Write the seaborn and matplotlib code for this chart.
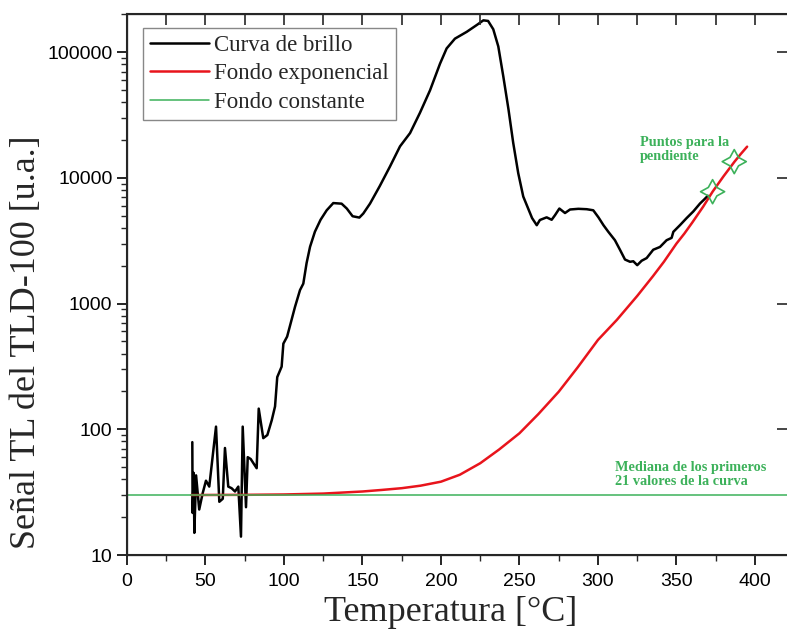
import numpy as np
import pandas as pd
import matplotlib
matplotlib.use("Agg")
import matplotlib.pyplot as plt
import seaborn as sns

sns.set_style("ticks")
plt.rcParams['font.family'] = ['Liberation Sans', 'DejaVu Sans']

# Curva de brillo
temp_brillo = [41.6, 41.8, 42.5, 42.9, 44.0, 46.0, 48.2, 50.3, 52.4, 56.7, 58.8, 61.0,
               62.4, 64.5, 66.6, 68.8, 70.9, 72.6, 73.7, 75.8, 76.9, 78.8, 82.6, 83.9,
               86.8, 89.4, 92.2, 94.3, 95.7, 98.5, 99.6, 102.0, 107.0, 110.2, 112.3,
               114.4, 116.6, 119.7, 123.3, 127.2, 131.4, 136.7, 140.0, 143.7, 148.0,
               150.5, 154.8, 161.0, 167.5, 173.9, 180.3, 186.6, 193.0, 199.4, 203.6,
               208.9, 216.4, 222.7, 227.0, 230.0, 233.3, 236.5, 239.7, 243.0, 246.0,
               249.2, 252.4, 256.7, 258.0, 261.0, 263.0, 267.3, 270.5, 272.6, 275.4,
               279.0, 282.2, 287.5, 292.8, 297.0, 300.3, 303.5, 306.6, 310.8, 314.0,
               317.2, 320.4, 322.5, 325.0, 327.8, 331.0, 335.2, 339.5, 343.7, 346.9,
               348.0, 352.2, 356.5, 360.7, 365.0, 367.5, 370.0]
senal_brillo = [79, 21.6, 45, 15, 43, 23, 31, 39, 35, 105, 26.5, 28,
                71, 35, 34, 32, 35, 14, 105, 24, 60, 58, 49, 146,
                85, 90, 118, 152, 260, 315, 480, 546, 940, 1280, 1440,
                2100, 2830, 3730, 4640, 5520, 6300, 6230, 5700, 4950, 4830,
                5200, 6240, 8600, 12300, 17800, 22700, 32900, 49600, 81000, 107000,
                128000, 145000, 164000, 179000, 177000, 152000, 111000, 64000, 35000, 19000,
                10900, 7100, 5250, 4790, 4200, 4620, 4850, 4640, 5040, 5700,
                5250, 5600, 5670, 5630, 5520, 4850, 4200, 3720, 3190, 2680,
                2240, 2150, 2170, 2020, 2190, 2300, 2680, 2820, 3190, 3330,
                3720, 4200, 4790, 5400, 6250, 6700, 7200]

# Fondo exponencial
temp_exp = [41, 75, 100, 125, 150, 162, 175, 187, 200, 212, 225, 237, 250, 262, 275,
            287, 300, 312, 325, 335, 342, 350, 355, 360, 367, 373, 380, 387, 391, 395]
senal_exp = [30, 30.1, 30.3, 30.8, 32, 32.9, 34, 35.6, 38.3, 43.5, 53.7, 69, 93, 132, 199,
             310, 514, 741, 1150, 1650, 2150, 3000, 3600, 4400, 5900, 7760, 10300, 13460,
             15500, 17700]

# Fondo constante (mediana de los primeros 21 valores)
fondo_cte = 30

# Puntos para la pendiente
temp_pend = [373, 386.8]
senal_pend = [7760, 13460]

df_brillo = pd.DataFrame({'T': temp_brillo, 'S': senal_brillo})
df_exp = pd.DataFrame({'T': temp_exp, 'S': senal_exp})
df_pend = pd.DataFrame({'T': temp_pend, 'S': senal_pend})

verde = '#3cb15a'
serif = 'Liberation Serif'

fig = plt.figure(figsize=(7.87, 6.35), dpi=100)
ax = fig.add_axes([127/787, 80/635, 660/787, 541/635])

sns.lineplot(data=df_brillo, x='T', y='S', ax=ax, color='black', lw=1.8,
             estimator=None, sort=False, label='Curva de brillo')
sns.lineplot(data=df_exp, x='T', y='S', ax=ax, color='#e8141c', lw=1.8,
             estimator=None, sort=False, label='Fondo exponencial')
ax.axhline(fondo_cte, color=verde, lw=1.1, label='Fondo constante')
sns.scatterplot(data=df_pend, x='T', y='S', ax=ax, marker=(4, 1, 0), s=300,
                facecolor='none', edgecolor=verde, linewidth=1.2, zorder=5)

ax.set_yscale('log')
ax.set_xlim(0, 420.4)
ax.set_ylim(10, 2.01e5)
ax.set_xticks(np.arange(0, 401, 50))
ax.set_xticks(np.arange(25, 401, 50), minor=True)
ax.set_yticks([10, 100, 1000, 10000, 100000])
ax.set_yticklabels(['10', '100', '1000', '10000', '100000'])
ax.tick_params(axis='both', which='major', direction='out', length=7, width=1.2,
               labelsize=14, colors='black')
ax.tick_params(axis='both', which='minor', direction='out', length=4, width=1.0)
ax.tick_params(axis='x', which='major', pad=6)
ax.spines['right'].set_visible(False)
for s in ['left', 'bottom', 'top']:
    ax.spines[s].set_linewidth(1.5)

ax.set_xlabel('Temperatura [°C]', family=serif, fontsize=26)
ax.set_ylabel('Señal TL del TLD-100 [u.a.]', family=serif, fontsize=26)
ax.xaxis.set_label_coords(0.491, -0.076)
ax.yaxis.set_label_coords(-0.128, 0.394)

# top ticks (inward)
axt = ax.twiny()
axt.set_xlim(ax.get_xlim())
axt.set_xticks(np.arange(0, 401, 25))
axt.set_xticklabels([])
axt.tick_params(axis='x', direction='in', length=8, width=1.2)
# right ticks (inward)
axr = ax.twinx()
axr.set_yscale('log')
axr.set_ylim(ax.get_ylim())
axr.set_yticks([10, 100, 1000, 10000, 100000])
axr.set_yticklabels([])
axr.yaxis.set_minor_locator(matplotlib.ticker.NullLocator())
axr.tick_params(axis='y', direction='in', length=7, width=1.2)
for a in (axt, axr):
    a.spines['right'].set_visible(False)
    a.grid(False)

ax.text(326.8, 21500, 'Puntos para la\npendiente', color=verde, fontsize=10.3,
        fontweight='bold', family=serif, va='top', ha='left', linespacing=1.1)
ax.text(311, 56, 'Mediana de los primeros\n21 valores de la curva', color=verde,
        fontsize=10.3, fontweight='bold', family=serif, va='top', ha='left', linespacing=1.1)

leg = ax.legend(loc='upper left', bbox_to_anchor=(0.024, 0.974), borderaxespad=0,
                prop={'family': serif, 'size': 16.5}, fancybox=False, framealpha=1,
                edgecolor='#888888', handlelength=2.6, labelspacing=0.32,
                handletextpad=0.2, borderpad=0.3)
leg.get_frame().set_linewidth(1.0)
leg.set_zorder(10)

fig.savefig('out.png', dpi=100)
